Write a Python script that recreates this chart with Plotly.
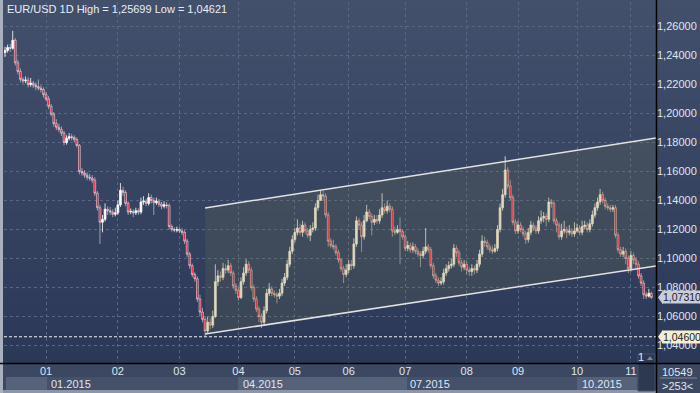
import plotly.graph_objects as go

# ---------------- data ----------------
symbol_title = "EUR/USD 1D High = 1,25699 Low = 1,04621"
first_open = 1.2420
close = [
    1.2435, 1.2455, 1.2450, 1.2505, 1.2350, 1.2290, 1.2235, 1.2225, 1.2230, 1.2200,
    1.2210, 1.2195, 1.2185, 1.2175, 1.2165, 1.2130, 1.2100, 1.2050, 1.1995, 1.1930,
    1.1905, 1.1890, 1.1865, 1.1800, 1.1830, 1.1840, 1.1835, 1.1820, 1.1780, 1.1600,
    1.1590, 1.1575, 1.1560, 1.1555, 1.1540, 1.1450, 1.1350, 1.1250, 1.1270, 1.1340,
    1.1330, 1.1320, 1.1305, 1.1315, 1.1370, 1.1470, 1.1455, 1.1380, 1.1320, 1.1325,
    1.1315, 1.1330, 1.1320, 1.1390, 1.1395, 1.1380, 1.1420, 1.1400, 1.1385, 1.1395,
    1.1375, 1.1360, 1.1370, 1.1365, 1.1220, 1.1200, 1.1195, 1.1200, 1.1190, 1.1180,
    1.1120, 1.1030, 1.0950, 1.0890, 1.0860, 1.0720, 1.0630, 1.0580, 1.0500, 1.0560,
    1.0540, 1.0600, 1.0840, 1.0880, 1.0870, 1.0930, 1.0920, 1.0950, 1.0900, 1.0810,
    1.0780, 1.0730, 1.0840, 1.0900, 1.0960, 1.0920, 1.0800, 1.0720, 1.0650, 1.0600,
    1.0560, 1.0640, 1.0760, 1.0790, 1.0760, 1.0750, 1.0740, 1.0760, 1.0830, 1.0870,
    1.0960, 1.1050, 1.1130, 1.1180, 1.1210, 1.1180, 1.1230, 1.1190, 1.1160, 1.1200,
    1.1210, 1.1350, 1.1400, 1.1440, 1.1430, 1.1300, 1.1120, 1.1090, 1.1080, 1.1040,
    1.0990, 1.0930, 1.0890, 1.0920, 1.0960, 1.0950, 1.1100, 1.1260, 1.1230, 1.1150,
    1.1260, 1.1320, 1.1290, 1.1250, 1.1270, 1.1260, 1.1300, 1.1350, 1.1330, 1.1360,
    1.1340, 1.1190, 1.1180, 1.1200, 1.1185, 1.1150, 1.1070, 1.1090, 1.1060, 1.1080,
    1.1050, 1.1030, 1.1020, 1.1050, 1.1080, 1.1060, 1.0950, 1.0880, 1.0850, 1.0830,
    1.0840, 1.0900, 1.0930, 1.0950, 1.0960, 1.1070, 1.1040, 1.0970, 1.0940, 1.0960,
    1.0920, 1.0910, 1.0930, 1.0920, 1.0960, 1.1030, 1.1120, 1.1110, 1.1080, 1.1060,
    1.1050, 1.1070, 1.1200, 1.1350, 1.1440, 1.1610, 1.1500, 1.1420, 1.1250, 1.1190,
    1.1230, 1.1200, 1.1170, 1.1130, 1.1180, 1.1230, 1.1210, 1.1190, 1.1260, 1.1280,
    1.1290, 1.1270, 1.1390, 1.1380, 1.1260, 1.1230, 1.1150, 1.1190, 1.1200, 1.1180,
    1.1190, 1.1170, 1.1190, 1.1210, 1.1180, 1.1220, 1.1230, 1.1200, 1.1240, 1.1300,
    1.1350, 1.1390, 1.1440, 1.1400, 1.1360, 1.1350, 1.1340, 1.1350, 1.1160, 1.1060,
    1.1030, 1.1050, 1.1000, 1.0930, 1.1020, 1.0990, 1.0960, 1.0880, 1.0830, 1.0750,
    1.0740, 1.0760, 1.0731,
]
high = [
    1.2460, 1.2475, 1.2480, 1.2570, 1.2520, 1.2370, 1.2310, 1.2250, 1.2255, 1.2250,
    1.2245, 1.2225, 1.2215, 1.2235, 1.2195, 1.2180, 1.2150, 1.2120, 1.2065, 1.2010,
    1.1960, 1.1930, 1.1910, 1.1880, 1.1850, 1.1865, 1.1860, 1.1850, 1.1835, 1.1790,
    1.1625, 1.1610, 1.1595, 1.1585, 1.1575, 1.1560, 1.1465, 1.1370, 1.1300, 1.1380,
    1.1360, 1.1355, 1.1340, 1.1350, 1.1400, 1.1520, 1.1495, 1.1470, 1.1395, 1.1345,
    1.1340, 1.1350, 1.1345, 1.1420, 1.1430, 1.1410, 1.1450, 1.1440, 1.1420, 1.1420,
    1.1410, 1.1390, 1.1395, 1.1390, 1.1380, 1.1235, 1.1215, 1.1220, 1.1215, 1.1210,
    1.1195, 1.1135, 1.1045, 1.0965, 1.0905, 1.0875, 1.0750, 1.0660, 1.0600, 1.0600,
    1.0590, 1.0640, 1.0960, 1.0920, 1.0910, 1.0970, 1.0960, 1.0990, 1.0970, 1.0915,
    1.0830, 1.0800, 1.0870, 1.0940, 1.0995, 1.0980, 1.0940, 1.0820, 1.0740, 1.0670,
    1.0620, 1.0670, 1.0790, 1.0830, 1.0810, 1.0780, 1.0770, 1.0790, 1.0860, 1.0900,
    1.0990, 1.1080, 1.1160, 1.1210, 1.1270, 1.1240, 1.1260, 1.1250, 1.1210, 1.1230,
    1.1250, 1.1380, 1.1440, 1.1470, 1.1465, 1.1450, 1.1320, 1.1140, 1.1130, 1.1100,
    1.1060, 1.1000, 1.0950, 1.0960, 1.0990, 1.0990, 1.1140, 1.1290, 1.1280, 1.1250,
    1.1300, 1.1370, 1.1340, 1.1310, 1.1300, 1.1300, 1.1340, 1.1450, 1.1380, 1.1400,
    1.1380, 1.1360, 1.1220, 1.1230, 1.1285, 1.1200, 1.1170, 1.1120, 1.1110, 1.1110,
    1.1100, 1.1070, 1.1050, 1.1080, 1.1210, 1.1100, 1.1080, 1.0970, 1.0900, 1.0870,
    1.0870, 1.0930, 1.0960, 1.0980, 1.1000, 1.1100, 1.1090, 1.1060, 1.0990, 1.0990,
    1.0980, 1.0940, 1.0960, 1.0950, 1.0990, 1.1060, 1.1160, 1.1150, 1.1130, 1.1100,
    1.1090, 1.1100, 1.1230, 1.1380, 1.1480, 1.1705, 1.1630, 1.1540, 1.1440, 1.1270,
    1.1260, 1.1250, 1.1220, 1.1190, 1.1210, 1.1260, 1.1250, 1.1230, 1.1290, 1.1330,
    1.1320, 1.1310, 1.1420, 1.1410, 1.1400, 1.1280, 1.1250, 1.1240, 1.1260, 1.1220,
    1.1230, 1.1210, 1.1250, 1.1240, 1.1230, 1.1260, 1.1260, 1.1250, 1.1270, 1.1330,
    1.1380, 1.1420, 1.1480, 1.1460, 1.1420, 1.1380, 1.1370, 1.1370, 1.1370, 1.1180,
    1.1080, 1.1080, 1.1070, 1.1020, 1.1050, 1.1040, 1.1010, 1.0980, 1.0900, 1.0850,
    1.0770, 1.0790, 1.0770,
]
low = [
    1.2390, 1.2420, 1.2425, 1.2440, 1.2330, 1.2270, 1.2215, 1.2205, 1.2210, 1.2180,
    1.2185, 1.2175, 1.2160, 1.2160, 1.2145, 1.2110, 1.2085, 1.2030, 1.1980, 1.1910,
    1.1885, 1.1870, 1.1845, 1.1780, 1.1785, 1.1815, 1.1815, 1.1800, 1.1765, 1.1580,
    1.1570, 1.1555, 1.1540, 1.1535, 1.1520, 1.1430, 1.1330, 1.1100, 1.1180, 1.1255,
    1.1300, 1.1300, 1.1285, 1.1290, 1.1300, 1.1355, 1.1430, 1.1360, 1.1300, 1.1305,
    1.1285, 1.1300, 1.1300, 1.1305, 1.1370, 1.1360, 1.1365, 1.1380, 1.1300, 1.1370,
    1.1355, 1.1340, 1.1345, 1.1345, 1.1200, 1.1185, 1.1180, 1.1180, 1.1175, 1.1160,
    1.1100, 1.1010, 1.0930, 1.0870, 1.0840, 1.0700, 1.0600, 1.0560, 1.0462, 1.0480,
    1.0510, 1.0520, 1.0590, 1.0810, 1.0840, 1.0850, 1.0895, 1.0900, 1.0880, 1.0790,
    1.0755, 1.0710, 1.0720, 1.0820, 1.0880, 1.0900, 1.0780, 1.0700, 1.0630, 1.0560,
    1.0520, 1.0540, 1.0620, 1.0740, 1.0740, 1.0730, 1.0690, 1.0720, 1.0740, 1.0810,
    1.0850, 1.0940, 1.1030, 1.1110, 1.1160, 1.1160, 1.1150, 1.1170, 1.1140, 1.1120,
    1.1180, 1.1190, 1.1330, 1.1400, 1.1400, 1.1280, 1.1080, 1.1070, 1.1060, 1.1020,
    1.0970, 1.0910, 1.0830, 1.0870, 1.0900, 1.0920, 1.0930, 1.1080, 1.1200, 1.1045,
    1.1130, 1.1250, 1.1270, 1.1160, 1.1230, 1.1240, 1.1240, 1.1280, 1.1310, 1.1310,
    1.1320, 1.1150, 1.1160, 1.1170, 1.0960, 1.1130, 1.1050, 1.1050, 1.1040, 1.1040,
    1.1030, 1.1010, 1.0940, 1.1000, 1.1030, 1.1040, 1.0930, 1.0860, 1.0830, 1.0810,
    1.0815, 1.0820, 1.0880, 1.0910, 1.0930, 1.0940, 1.1010, 1.0950, 1.0910, 1.0920,
    1.0890, 1.0880, 1.0880, 1.0890, 1.0900, 1.0940, 1.1010, 1.1080, 1.1060, 1.1040,
    1.1030, 1.1040, 1.1050, 1.1180, 1.1330, 1.1420, 1.1480, 1.1400, 1.1230, 1.1170,
    1.1170, 1.1180, 1.1150, 1.1100, 1.1110, 1.1160, 1.1190, 1.1170, 1.1170, 1.1240,
    1.1250, 1.1220, 1.1250, 1.1350, 1.1240, 1.1180, 1.1130, 1.1130, 1.1170, 1.1140,
    1.1160, 1.1150, 1.1150, 1.1180, 1.1160, 1.1160, 1.1200, 1.1180, 1.1180, 1.1220,
    1.1280, 1.1330, 1.1370, 1.1380, 1.1340, 1.1330, 1.1320, 1.1320, 1.1140, 1.1040,
    1.1010, 1.1010, 1.0960, 1.0900, 1.0910, 1.0960, 1.0930, 1.0860, 1.0810, 1.0720,
    1.0720, 1.0730, 1.0720,
]
open_ = [first_open] + close[:-1]

# month ticks (bar index of first bar in each month) and labels
month_idx = [16, 44, 68, 91, 113, 134, 156, 180, 200, 223, 244]
month_lbl = ["01", "02", "03", "04", "05", "06", "07", "08", "09", "10", "11"]
# quarter labels
quarter_idx = [16, 91, 156, 223]
quarter_lbl = ["01.2015", "04.2015", "07.2015", "10.2015"]

# price levels
price_ticks = [1.04, 1.06, 1.08, 1.10, 1.12, 1.14, 1.16, 1.18, 1.20, 1.22, 1.24, 1.26]
last_price = 1.0731
level_line = 1.0460

# trend channel drawn on the chart (bar index, price)
channel_x = [78, 253.8]
channel_upper = [1.1348, 1.1831]
channel_lower = [1.0479, 1.0948]
channel_start_bar = 78

bar_count_text = "10549"
visible_bars_text = ">253<"

# ---------------- figure ----------------
W, H = 700, 393
ML, MR, MT, MB = 4, 44, 2, 30
PW, PH = W - ML - MR, H - MT - MB
x_range = [-0.4, 253.8]
y_range = [1.0279, 1.2769]
FONT = "Liberation Sans, Arial"


def px(xp):
    return (xp - ML) / PW


def py(yp):
    return (H - MB - yp) / PH


n = len(close)
idx = list(range(n))
fig = go.Figure()

# channel fill
fig.add_trace(go.Scatter(
    x=[channel_x[0], channel_x[1], channel_x[1], channel_x[0], channel_x[0]],
    y=[channel_lower[0], channel_lower[1], channel_upper[1], channel_upper[0], channel_lower[0]],
    fill="toself", fillcolor="rgba(110,112,84,0.22)", mode="none",
    hoverinfo="skip", showlegend=False))

k = channel_start_bar
for sl, col in [(slice(0, k), "#ffffff"), (slice(k, n), "#fff6dc")]:
    fig.add_trace(go.Candlestick(
        x=idx[sl], open=open_[sl], high=high[sl], low=low[sl], close=close[sl],
        increasing=dict(line=dict(color=col, width=0.8), fillcolor=col),
        decreasing=dict(line=dict(color=col, width=0.5), fillcolor="#ee1133"),
        whiskerwidth=0, showlegend=False, hoverinfo="skip"))

# channel lines
for yy in (channel_upper, channel_lower):
    fig.add_trace(go.Scatter(x=channel_x, y=yy, mode="lines",
                             line=dict(color="#e2e2e2", width=1.5),
                             hoverinfo="skip", showlegend=False))

# level line
fig.add_trace(go.Scatter(x=x_range, y=[level_line, level_line], mode="lines",
                         line=dict(color="#f2f2f2", width=1, dash="3px,2px"),
                         hoverinfo="skip", showlegend=False))

shapes = []
# gradient background (plot + right axis area)
top_c = (66, 80, 108)
bot_c = (43, 56, 87)
N = 36
for i in range(N):
    t = i / (N - 1)
    c = tuple(int(round(top_c[j] + (bot_c[j] - top_c[j]) * t)) for j in range(3))
    y0 = 1 + MT / PH - (i) * (1 + MT / PH) / N
    y1 = 1 + MT / PH - (i + 1) * (1 + MT / PH) / N
    shapes.append(dict(type="rect", xref="paper", yref="paper", x0=px(0), x1=px(W),
                       y0=y1 - 0.002, y1=y0, fillcolor="rgb(%d,%d,%d)" % c,
                       line=dict(width=0), layer="below"))
# bottom axis panel
shapes.append(dict(type="rect", xref="paper", yref="paper", x0=px(0), x1=px(W),
                   y0=py(H), y1=py(H - MB), fillcolor="#3c4862", line=dict(width=0), layer="below"))
# quarter row boxes
row_boxes = [(6, 47, "#56617a"), (47, 238, "#45516a"), (238, 407, "#56617a"),
             (407, 577, "#45516a"), (577, 637, "#56617a")]
for a, b, c in row_boxes:
    shapes.append(dict(type="rect", xref="paper", yref="paper", x0=px(a), x1=px(b),
                       y0=py(390), y1=py(377), fillcolor=c, line=dict(width=0), layer="below"))
shapes.append(dict(type="rect", xref="paper", yref="paper", x0=px(0), x1=px(656),
                   y0=py(393), y1=py(390), fillcolor="#8c96a8", line=dict(width=0), layer="below"))
# left border strip
shapes.append(dict(type="rect", xref="paper", yref="paper", x0=px(0), x1=px(3),
                   y0=py(393), y1=py(0), fillcolor="#a9b1bf", line=dict(width=0)))
# scroll block bottom right
shapes.append(dict(type="rect", xref="paper", yref="paper", x0=px(638), x1=px(655),
                   y0=py(391), y1=py(354), fillcolor="#2d3951",
                   line=dict(width=1, color="#46526a")))
shapes.append(dict(type="path", xref="paper", yref="paper",
                   path="M %f %f L %f %f L %f %f Z" % (px(647), py(360), px(653), py(360), px(650), py(356)),
                   fillcolor="#7c879c", line=dict(width=0)))
# separators (black)
shapes.append(dict(type="line", xref="paper", yref="paper", x0=px(656.5), x1=px(656.5),
                   y0=py(H), y1=py(0), line=dict(color="#000000", width=1.5)))
shapes.append(dict(type="line", xref="paper", yref="paper", x0=px(0), x1=px(W),
                   y0=py(363.5), y1=py(363.5), line=dict(color="#000000", width=1.5)))
shapes.append(dict(type="line", xref="paper", yref="paper", x0=px(660), x1=px(697),
                   y0=py(378), y1=py(378), line=dict(color="#7d889d", width=1)))


# price marker boxes with pointers
def marker(price, bg, fg, txt):
    shapes.append(dict(type="path", xref="paper", yref="y",
                       path="M %f %f L %f %f L %f %f Z" % (px(658), price, px(663), price + 0.0048,
                                                           px(663), price - 0.0048),
                       fillcolor=bg, line=dict(width=0)))
    return dict(x=px(662), y=price, xref="paper", yref="y", text=txt, showarrow=False,
                xanchor="left", yanchor="middle", bgcolor=bg, borderpad=0,
                font=dict(family=FONT, size=10.5, color=fg))


annotations = []
annotations.append(marker(last_price, "#c9ced8", "#1b2030", "1,07310"))
annotations.append(marker(level_line, "#f2eecf", "#1b2030", "1,04600"))

annotations.append(dict(x=px(5), y=py(9), xref="paper", yref="paper", text=symbol_title,
                        showarrow=False, xanchor="left", yanchor="middle",
                        font=dict(family=FONT, size=11, color="#e8eef8")))
for qi, ql in zip(quarter_idx, quarter_lbl):
    annotations.append(dict(x=qi, y=py(383.5), xref="x", yref="paper", text=ql, showarrow=False,
                            xanchor="left", yanchor="middle", xshift=3,
                            font=dict(family=FONT, size=11, color="#dfe6f2")))
annotations.append(dict(x=px(677), y=py(372), xref="paper", yref="paper", text=bar_count_text,
                        showarrow=False, xanchor="center", yanchor="middle",
                        font=dict(family=FONT, size=11, color="#dfe6f2")))
annotations.append(dict(x=px(677), y=py(386), xref="paper", yref="paper", text=visible_bars_text,
                        showarrow=False, xanchor="center", yanchor="middle",
                        font=dict(family=FONT, size=11, color="#dfe6f2")))
annotations.append(dict(x=px(641), y=py(357), xref="paper", yref="paper", text="1",
                        showarrow=False, xanchor="center", yanchor="middle",
                        font=dict(family=FONT, size=11, color="#dfe6f2")))

grid = dict(showgrid=True, gridcolor="#5a6784", gridwidth=1, griddash="3px,3px")
fig.update_layout(
    width=W, height=H, margin=dict(l=ML, r=MR, t=MT, b=MB, pad=0),
    paper_bgcolor="#3c4862", plot_bgcolor="rgba(0,0,0,0)",
    separators=",.", showlegend=False, boxgap=0.0,
    shapes=shapes, annotations=annotations,
    xaxis=dict(range=x_range, tickmode="array", tickvals=month_idx, ticktext=month_lbl,
               rangeslider=dict(visible=False), zeroline=False, showline=False, ticks="",
               tickfont=dict(family=FONT, size=11, color="#dfe6f2"),
               fixedrange=True, **grid),
    yaxis=dict(range=y_range, side="right", tickmode="array", tickvals=price_ticks,
               tickformat=".5f", zeroline=False, showline=False, ticks="",
               tickfont=dict(family=FONT, size=11, color="#dfe6f2"),
               **grid),
)

fig.write_html("out.html")
